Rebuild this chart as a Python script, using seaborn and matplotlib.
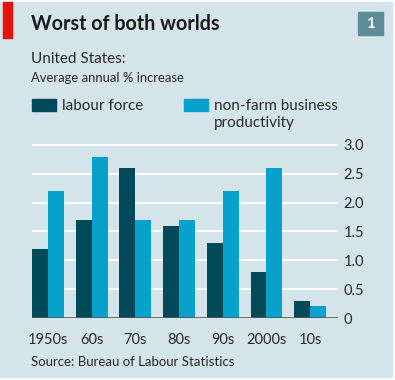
import matplotlib
matplotlib.use("Agg")
import matplotlib.pyplot as plt
from matplotlib.patches import Rectangle
import seaborn as sns
import pandas as pd

decades = ["1950s", "60s", "70s", "80s", "90s", "2000s", "10s"]
labour_force = [1.2, 1.7, 2.6, 1.6, 1.3, 0.8, 0.3]
productivity = [2.2, 2.8, 1.7, 1.7, 2.2, 2.6, 0.2]
yticks = [0, 0.5, 1.0, 1.5, 2.0, 2.5, 3.0]
ytick_labels = ["0", "0.5", "1.0", "1.5", "2.0", "2.5", "3.0"]

df = pd.DataFrame({
    "decade": decades * 2,
    "value": labour_force + productivity,
    "series": ["labour force"] * len(decades) + ["productivity"] * len(decades),
})

bg = "#d5e3ea"
dark = "#02495a"
light = "#06a2cc"
txt = "#2a2a2a"

sns.set_style("white")
plt.rcParams["font.family"] = ["Lato", "DejaVu Sans"]

W, H = 395, 380
fig = plt.figure(figsize=(W / 100, H / 100), dpi=100, facecolor="white")


def fx(px):
    return px / W


def fy(py):
    return 1 - py / H


# panel background and decorations
fig.patches.append(Rectangle((0, fy(377)), fx(392), fy(2) - fy(377),
                             transform=fig.transFigure, color=bg, zorder=-5))
fig.patches.append(Rectangle((fx(3), fy(38)), fx(9), fy(2) - fy(38),
                             transform=fig.transFigure, color="#e3120b", zorder=1))
fig.patches.append(Rectangle((fx(358), fy(35)), fx(25), fy(12) - fy(35),
                             transform=fig.transFigure, color="#5f8c9b", zorder=1))
fig.text(fx(370.5), fy(23.5), "1", color="white", fontsize=11, fontweight="bold",
         ha="center", va="center")

fig.text(fx(31), fy(30), "Worst of both worlds", fontsize=14.2, fontweight="bold",
         color="#1a1a1a", va="baseline")
fig.text(fx(31), fy(63), "United States:", fontsize=11, color=txt, va="baseline")
fig.text(fx(31), fy(82), "Average annual % increase", fontsize=9.4, color=txt, va="baseline")

# legend
fig.patches.append(Rectangle((fx(32), fy(111)), fx(24), fy(99) - fy(111),
                             transform=fig.transFigure, color=dark))
fig.patches.append(Rectangle((fx(184), fy(111)), fx(24), fy(99) - fy(111),
                             transform=fig.transFigure, color=light))
fig.text(fx(62), fy(110), "labour force", fontsize=11, color=txt, va="baseline")
fig.text(fx(214), fy(110), "non-farm business", fontsize=11, color=txt, va="baseline")
fig.text(fx(214), fy(127), "productivity", fontsize=11, color=txt, va="baseline")

fig.text(fx(31), fy(366), "Source: Bureau of Labour Statistics", fontsize=9.5,
         color=txt, va="baseline")

# chart
ax = fig.add_axes([fx(32), fy(318), fx(338) - fx(32), fy(139.2) - fy(318)])
ax.set_facecolor("none")
sns.barplot(data=df, x="decade", y="value", hue="series",
            palette=[dark, light], width=0.73, dodge=True, gap=0,
            saturation=1, legend=False, ax=ax, zorder=3, linewidth=0)

ax.set_xlim(-0.364, 6.636)
ax.set_ylim(0, 3.1)
for s in ax.spines.values():
    s.set_visible(False)
ax.set_yticks(yticks)
ax.set_yticklabels(ytick_labels)
ax.yaxis.tick_right()
ax.grid(axis="y", color="white", linewidth=1.5, zorder=0)
ax.set_axisbelow(True)
ax.axhline(0, color="#555555", linewidth=1.2, zorder=4)
ax.tick_params(axis="y", length=0, pad=4, labelsize=10.5, labelcolor=txt)
ax.tick_params(axis="x", length=0, pad=11, labelsize=10.5, labelcolor=txt)
ax.set_xlabel("")
ax.set_ylabel("")

fig.savefig("out.png", dpi=100, facecolor="white")
